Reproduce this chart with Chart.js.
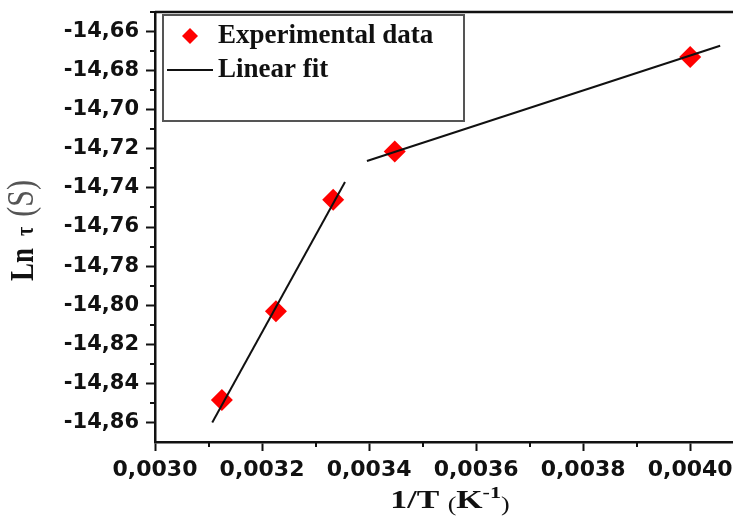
<!DOCTYPE html>
<html>
<head>
<meta charset="utf-8">
<script src="https://cdn.jsdelivr.net/npm/chart.js@4.4.1/dist/chart.umd.min.js"></script>
<style>
  html, body { margin: 0; padding: 0; background: #fff; }
  canvas { display: block; }
</style>
</head>
<body>
<canvas id="c" width="733" height="518"></canvas>
<script>
// measured points: 1/T (K^-1) vs ln(tau)
const invT = [0.003125, 0.003226, 0.003333, 0.003448, 0.004000];
const lnTau = [-14.8485, -14.8031, -14.7461, -14.7214, -14.673];

// linear fit segments (end points)
const fitLowX = [0.003107, 0.003355];
const fitLowY = [-14.860, -14.737];
const fitHighX = [0.003396, 0.004056];
const fitHighY = [-14.7262, -14.6673];

const xTicks = [0.0030, 0.0032, 0.0034, 0.0036, 0.0038, 0.0040];
const xMinor = [0.0031, 0.0033, 0.0035, 0.0037, 0.0039];
const yTicks = [-14.86, -14.84, -14.82, -14.80, -14.78, -14.76, -14.74, -14.72, -14.70, -14.68, -14.66];
const yMinor = [-14.85, -14.83, -14.81, -14.79, -14.77, -14.75, -14.73, -14.71, -14.69, -14.67, -14.65];

const legendLabels = ['Experimental data', 'Linear fit'];

const toPts = (xs, ys) => xs.map((v, i) => ({ x: v, y: ys[i] }));
const comma = (v, d) => v.toFixed(d).replace('.', ',');

const INK = '#111';
const SERIF = '"Liberation Serif", "Times New Roman", serif';

// draws a run of text pieces with their own fonts along one baseline
function drawRun(ctx, parts, align) {
  let total = 0;
  parts.forEach(p => { ctx.font = p.font; p.w = ctx.measureText(p.text).width + (p.gap || 0); total += p.w; });
  let x = align === 'center' ? -total / 2 : 0;
  parts.forEach(p => {
    ctx.font = p.font;
    ctx.fillStyle = p.color || INK;
    ctx.fillText(p.text, x, p.dy || 0);
    x += p.w;
  });
}

const decor = {
  id: 'decor',
  afterDraw(chart) {
    const { ctx, chartArea: a, scales: { x, y } } = chart;
    ctx.save();

    // top frame line
    ctx.strokeStyle = INK;
    ctx.lineWidth = 2.5;
    ctx.beginPath();
    ctx.moveTo(a.left, a.top);
    ctx.lineTo(a.right, a.top);
    ctx.stroke();

    // minor ticks
    ctx.lineWidth = 2;
    ctx.beginPath();
    xMinor.forEach(v => {
      const px = Math.round(x.getPixelForValue(v));
      ctx.moveTo(px, a.bottom);
      ctx.lineTo(px, a.bottom + 5);
    });
    yMinor.forEach(v => {
      const py = Math.round(y.getPixelForValue(v));
      ctx.moveTo(a.left, py);
      ctx.lineTo(a.left - 5, py);
    });
    ctx.stroke();

    // legend box
    const lx = a.left + 8, ly = a.top + 3;
    ctx.strokeStyle = '#555';
    ctx.lineWidth = 2;
    ctx.strokeRect(lx, ly, 301, 106);

    ctx.fillStyle = '#ff0000';
    ctx.beginPath();
    const dx = lx + 27, dy = ly + 21, r = 8;
    ctx.moveTo(dx - r, dy);
    ctx.lineTo(dx, dy - r);
    ctx.lineTo(dx + r, dy);
    ctx.lineTo(dx, dy + r);
    ctx.closePath();
    ctx.fill();

    ctx.strokeStyle = INK;
    ctx.lineWidth = 2;
    ctx.beginPath();
    ctx.moveTo(lx + 4, ly + 55);
    ctx.lineTo(lx + 50, ly + 55);
    ctx.stroke();

    ctx.fillStyle = INK;
    ctx.font = 'bold 27px ' + SERIF;
    ctx.textBaseline = 'alphabetic';
    ctx.fillText(legendLabels[0], lx + 55, ly + 28);
    ctx.fillText(legendLabels[1], lx + 55, ly + 62);

    // x axis title
    ctx.save();
    ctx.translate(450, 508);
    ctx.scale(1.3, 1);
    drawRun(ctx, [
      { text: '1/T ', font: 'bold 26px ' + SERIF },
      { text: '(', font: '20px ' + SERIF, dy: 3 },
      { text: 'K', font: 'bold 26px ' + SERIF },
      { text: '-1', font: 'bold 17px ' + SERIF, dy: -10 },
      { text: ')', font: '20px ' + SERIF, dy: 3 }
    ], 'center');
    ctx.restore();

    // y axis title
    ctx.save();
    ctx.translate(33, 281);
    ctx.rotate(-Math.PI / 2);
    ctx.scale(1, 1.25);
    drawRun(ctx, [
      { text: 'Ln', font: 'bold 27px ' + SERIF, gap: 12 },
      { text: '\u03C4', font: 'bold 20px ' + SERIF, gap: 10 },
      { text: '(S)', font: '30px ' + SERIF, color: '#555' }
    ], 'left');
    ctx.restore();

    ctx.restore();
  }
};

new Chart(document.getElementById('c'), {
  type: 'scatter',
  data: {
    datasets: [
      {
        label: legendLabels[0],
        data: toPts(invT, lnTau),
        pointStyle: 'rectRot',
        pointRadius: 11,
        backgroundColor: '#ff0000',
        borderWidth: 0,
        order: 1
      },
      {
        label: legendLabels[1],
        data: toPts(fitLowX, fitLowY),
        showLine: true,
        pointRadius: 0,
        borderColor: INK,
        borderWidth: 2,
        order: 0
      },
      {
        label: legendLabels[1],
        data: toPts(fitHighX, fitHighY),
        showLine: true,
        pointRadius: 0,
        borderColor: INK,
        borderWidth: 2,
        order: 0
      }
    ]
  },
  options: {
    responsive: false,
    animation: false,
    devicePixelRatio: 1,
    layout: { autoPadding: false, padding: { top: 12, left: 0, right: 0, bottom: 0 } },
    plugins: {
      legend: { display: false },
      tooltip: { enabled: false }
    },
    scales: {
      x: {
        type: 'linear',
        min: 0.0030,
        max: 0.00408,
        afterBuildTicks: s => { s.ticks = xTicks.map(v => ({ value: v })); },
        afterFit: s => { s.height = 76; s.paddingLeft = 0; s.paddingRight = 0; },
        ticks: {
          callback: v => comma(v, 4),
          color: INK,
          font: { family: 'DejaVu Sans', weight: 'bold', size: 22 },
          padding: 6,
          maxRotation: 0,
          autoSkip: false
        },
        grid: { drawOnChartArea: false, tickLength: 9, tickWidth: 2, tickColor: INK },
        border: { color: INK, width: 2.5 }
      },
      y: {
        type: 'linear',
        min: -14.87,
        max: -14.65,
        afterBuildTicks: s => { s.ticks = yTicks.map(v => ({ value: v })); },
        afterFit: s => { s.width = 155; s.paddingTop = 0; s.paddingBottom = 0; },
        ticks: {
          callback: v => comma(v, 2),
          color: INK,
          font: { family: 'DejaVu Sans', weight: 'bold', size: 21 },
          padding: 7,
          autoSkip: false
        },
        grid: { drawOnChartArea: false, tickLength: 9, tickWidth: 2, tickColor: INK },
        border: { color: INK, width: 2.5 }
      }
    }
  },
  plugins: [decor]
});
</script>
</body>
</html>
